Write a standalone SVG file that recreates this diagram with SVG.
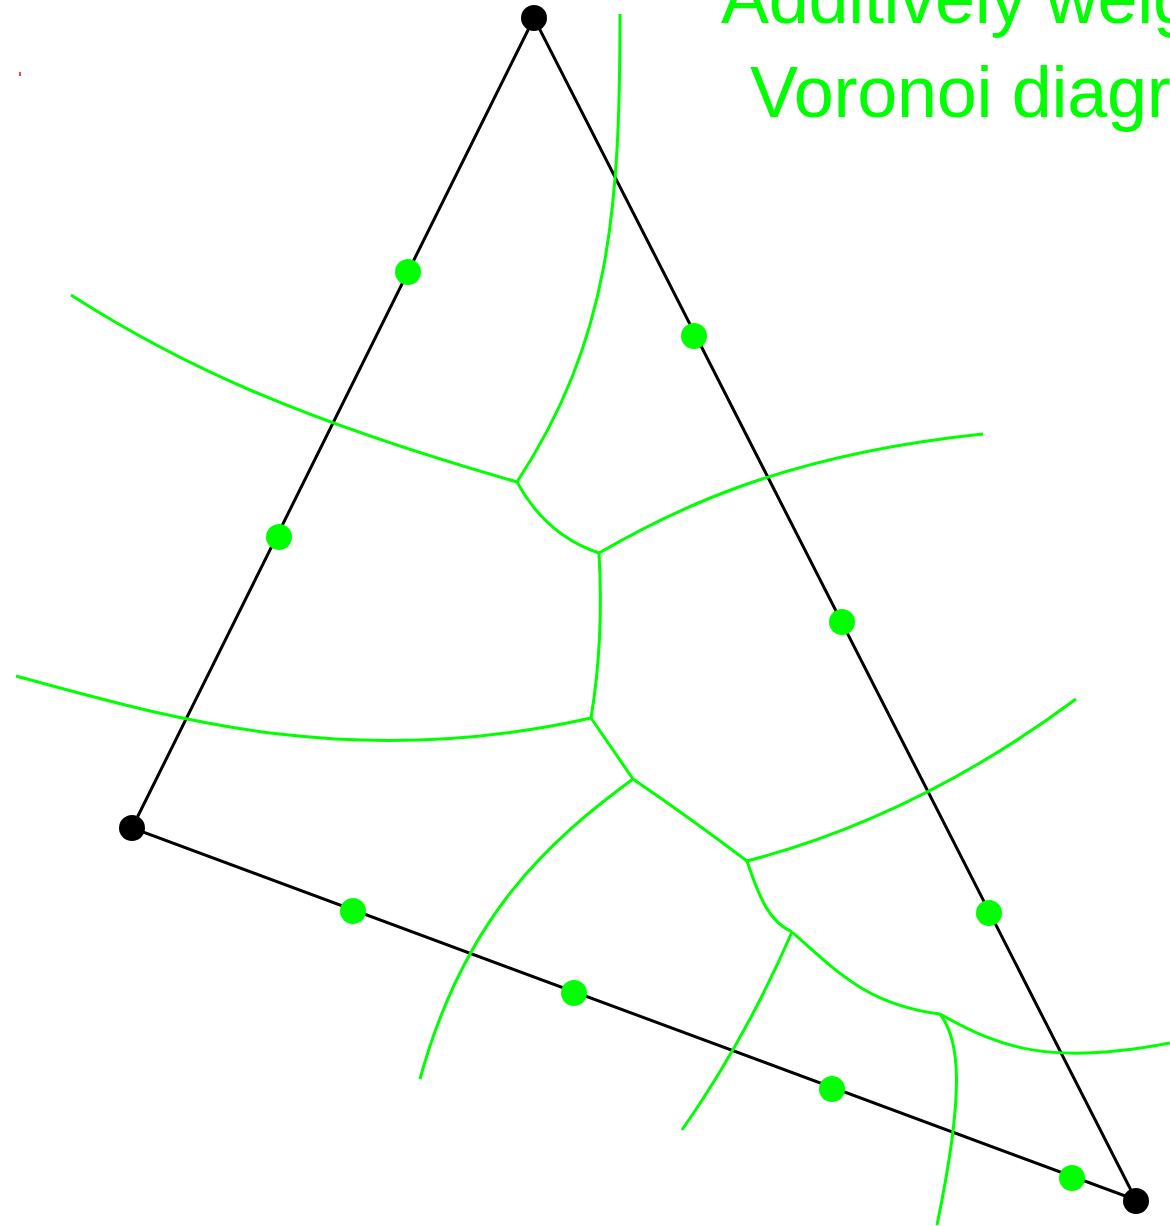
<svg xmlns="http://www.w3.org/2000/svg" width="1170" height="1226" viewBox="0 0 1170 1226">
<style>
.edge{fill:none;stroke:#000;stroke-width:3}
.vor{fill:none;stroke:#00ff00;stroke-width:3}
.site{fill:#00ff00}
.vert{fill:#000}
.title{font-family:"Liberation Sans",Arial,sans-serif;font-size:72px;fill:#00ff00;letter-spacing:-0.3px}
</style>
<rect x="19" y="72" width="2" height="4" fill="#ff4040"/>
<g id="title">
<text class="title" x="721" y="23">Additively weighted</text>
<text class="title" x="750" y="117">Voronoi diagram</text>
</g>
<g id="connectors">
<g id="triangle">
<path class="edge" d="M534,18 L132,828 L1136,1200 Z"/>
</g>
<g id="voronoi">
<path class="vor" d="M620,14 C620,210 610,340 517,482"/>
<path class="vor" d="M71,295 C180,365 300,420 517,482"/>
<path class="vor" d="M517,482 C535,515 560,540 599,553"/>
<path class="vor" d="M599,553 C670,512 780,455 983,434"/>
<path class="vor" d="M599,553 Q604,640 591,718"/>
<path class="vor" d="M16,676 C170,718 350,772 591,718"/>
<path class="vor" d="M591,718 L633,779"/>
<path class="vor" d="M633,779 C550,840 465,915 420,1079"/>
<path class="vor" d="M633,779 Q690,818 747,861"/>
<path class="vor" d="M747,861 C820,842 940,800 1076,699"/>
<path class="vor" d="M747,861 C760,900 770,922 792,932"/>
<path class="vor" d="M792,932 Q745,1040 682,1130"/>
<path class="vor" d="M792,932 C840,975 870,1005 940,1014"/>
<path class="vor" d="M940,1014 C1000,1048 1050,1066 1170,1043"/>
<path class="vor" d="M940,1014 C960,1040 965,1090 937,1225"/>
</g>
</g>
<g id="v-top"><circle class="vert" cx="534" cy="18" r="13"/></g>
<g id="v-left"><circle class="vert" cx="132" cy="828" r="13"/></g>
<g id="v-right"><circle class="vert" cx="1136" cy="1201" r="13"/></g>
<g id="s1"><circle class="site" cx="408" cy="272" r="13"/></g>
<g id="s2"><circle class="site" cx="279" cy="537" r="13"/></g>
<g id="s3"><circle class="site" cx="694" cy="336" r="13"/></g>
<g id="s4"><circle class="site" cx="842" cy="622" r="13"/></g>
<g id="s5"><circle class="site" cx="989" cy="913" r="13"/></g>
<g id="s6"><circle class="site" cx="353" cy="911" r="13"/></g>
<g id="s7"><circle class="site" cx="574" cy="993" r="13"/></g>
<g id="s8"><circle class="site" cx="832" cy="1089" r="13"/></g>
<g id="s9"><circle class="site" cx="1072" cy="1178" r="13"/></g>
</svg>
